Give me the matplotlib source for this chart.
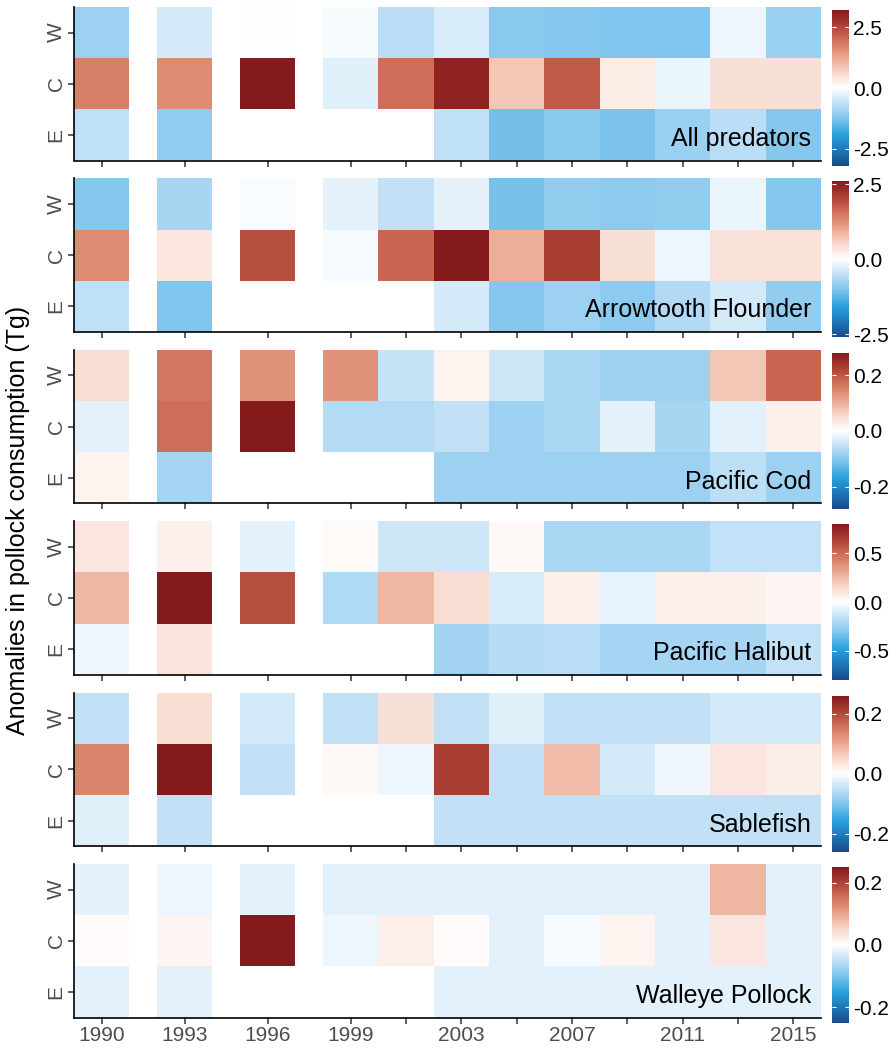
import numpy as np
import matplotlib
matplotlib.use('Agg')
import matplotlib.pyplot as plt
from matplotlib.colors import LinearSegmentedColormap, Normalize
from matplotlib.ticker import FormatStrFormatter

plt.rcParams['font.family'] = ['Liberation Sans Narrow', 'Liberation Sans', 'DejaVu Sans']
plt.rcParams['axes.unicode_minus'] = False

nan = np.nan
years = [1990, 1993, 1996, 1999, 2001, 2003, 2005, 2007, 2009, 2011, 2013, 2015]
labelled_years = [1990, 1993, 1996, 1999, 2003, 2007, 2011, 2015]
regions = ['E', 'C', 'W']  # bottom to top
predators = ['All predators', 'Arrowtooth Flounder', 'Pacific Cod',
             'Pacific Halibut', 'Sablefish', 'Walleye Pollock']

# anomalies (Tg), one list per region and predator
all_W = [-0.96, -0.42, -0.03, -0.10, -0.70, -0.38, -1.15, -1.18, -1.25, -1.25, -0.19, -0.99]
all_C = [1.76, 1.60, 3.20, -0.32, 1.98, 3.04, 0.86, 2.24, 0.32, -0.22, 0.51, 0.51]
all_E = [-0.64, -1.09, nan, nan, nan, -0.64, -1.34, -1.15, -1.28, -0.99, -0.70, -1.18]

atf_W = [-0.96, -0.70, -0.05, -0.21, -0.49, -0.21, -1.07, -0.86, -0.91, -0.86, -0.18, -0.96]
atf_C = [1.30, 0.31, 1.95, -0.10, 1.69, 2.60, 0.94, 2.13, 0.42, -0.16, 0.39, 0.39]
atf_E = [-0.52, -1.01, nan, nan, nan, -0.34, -0.96, -0.78, -0.91, -0.62, -0.36, -0.86]

cod_W = [0.048, 0.162, 0.132, 0.132, -0.050, 0.017, -0.045, -0.073, -0.081, -0.081, 0.076, 0.182]
cod_C = [-0.025, 0.174, 0.280, -0.064, -0.064, -0.053, -0.084, -0.073, -0.022, -0.076, -0.025, 0.020]
cod_E = [0.017, -0.078, nan, nan, nan, -0.084, -0.084, -0.084, -0.084, -0.084, -0.059, -0.084]

hal_W = [0.10, 0.06, -0.07, 0.02, -0.12, -0.12, 0.03, -0.21, -0.21, -0.21, -0.15, -0.15]
hal_C = [0.26, 0.80, 0.60, -0.20, 0.26, 0.14, -0.10, 0.06, -0.06, 0.06, 0.06, 0.04]
hal_E = [-0.04, 0.11, nan, nan, nan, -0.23, -0.18, -0.17, -0.22, -0.22, -0.22, -0.15]

sab_W = [-0.049, 0.044, -0.036, -0.049, 0.042, -0.049, -0.026, -0.049, -0.049, -0.049, -0.036, -0.036]
sab_C = [0.138, 0.260, -0.049, 0.010, -0.016, 0.213, -0.049, 0.081, -0.036, -0.013, 0.034, 0.023]
sab_E = [-0.026, -0.049, nan, nan, nan, -0.049, -0.049, -0.049, -0.049, -0.049, -0.049, -0.049]

wp_W = [-0.020, -0.015, -0.022, -0.022, -0.022, -0.022, -0.022, -0.022, -0.022, -0.022, 0.083, -0.022]
wp_C = [0.005, 0.012, 0.250, -0.015, 0.020, 0.005, -0.022, -0.008, 0.015, -0.022, 0.033, -0.022]
wp_E = [-0.022, -0.022, nan, nan, nan, -0.022, -0.022, -0.022, -0.022, -0.022, -0.022, -0.022]

panels = [(all_E, all_C, all_W), (atf_E, atf_C, atf_W), (cod_E, cod_C, cod_W),
          (hal_E, hal_C, hal_W), (sab_E, sab_C, sab_W), (wp_E, wp_C, wp_W)]
cbar_ticks = [[-2.5, 0, 2.5], [-2.5, 0, 2.5], [-0.2, 0, 0.2],
              [-0.5, 0, 0.5], [-0.2, 0, 0.2], [-0.2, 0, 0.2]]

cmap = LinearSegmentedColormap.from_list('anom', [
    (0.0, '#1b4a86'), (0.1, '#1c78b8'), (0.2, '#2aa1dc'), (0.3, '#7cc3ec'),
    (0.4, '#bfe0f6'), (0.5, '#ffffff'), (0.6, '#f8d8cc'), (0.7, '#eaa58d'),
    (0.8, '#d2735c'), (0.9, '#ad4236'), (1.0, '#841a1c')])

W, H = 892, 1048
fig = plt.figure(figsize=(W / 100, H / 100), dpi=100)

# tile edges: each survey year is a 2-year wide tile, gaps left empty
xe = [years[0] - 1]
gap = []
for yr in years:
    if yr - 1 > xe[-1]:
        xe.append(yr - 1)
        gap.append(True)
    xe.append(yr + 1)
    gap.append(False)
xe = np.array(xe)

for i, (name, rows, ticks) in enumerate(zip(predators, panels, cbar_ticks)):
    top = 7 + 171.4 * i
    ph = 153.5
    ax = fig.add_axes([74 / W, 1 - (top + ph) / H, 747 / W, ph / H])
    data = np.array(rows, dtype=float)
    lim = np.nanmax(np.abs(data))
    norm = Normalize(-lim, lim)
    Z = np.full((3, len(gap)), nan)
    j = 0
    for k, g in enumerate(gap):
        if not g:
            Z[:, k] = data[:, j]
            j += 1
    mesh = ax.pcolormesh(xe, [-0.5, 0.5, 1.5, 2.5], np.ma.masked_invalid(Z),
                         cmap=cmap, norm=norm, edgecolors='none', antialiased=False)
    ax.set_xlim(1989, 2016)
    ax.set_ylim(-0.5, 2.5)
    ax.set_yticks([0, 1, 2])
    ax.set_yticklabels(regions, rotation=90, va='center', color='#4d4d4d', fontsize=15)
    ax.set_xticks(years)
    if i == len(predators) - 1:
        ax.set_xticklabels([str(y) if y in labelled_years else '' for y in years],
                           color='#4d4d4d', fontsize=15)
    else:
        ax.set_xticklabels([])
    for s in ['top', 'right']:
        ax.spines[s].set_visible(False)
    for s in ['left', 'bottom']:
        ax.spines[s].set_linewidth(1.2)
    ax.tick_params(length=4, width=1.1, color='#333333', pad=2)
    ax.text(0.987, 0.14, name, transform=ax.transAxes, ha='right', va='center',
            fontsize=18, color='black')

    cax = fig.add_axes([832 / W, 1 - (top + 3 + 156) / H, 17 / W, 156 / H])
    cb = fig.colorbar(mesh, cax=cax)
    cb.outline.set_visible(False)
    cb.set_ticks(ticks)
    cb.ax.yaxis.set_major_formatter(FormatStrFormatter('%.1f'))
    cb.ax.tick_params(direction='in', color='white', length=3, width=0.8,
                      left=True, right=True, labelsize=15, pad=3)

fig.text(0.02, 0.503, 'Anomalies in pollock consumption (Tg)', rotation=90,
         ha='center', va='center', fontsize=18)

fig.savefig('out.png', dpi=100)
